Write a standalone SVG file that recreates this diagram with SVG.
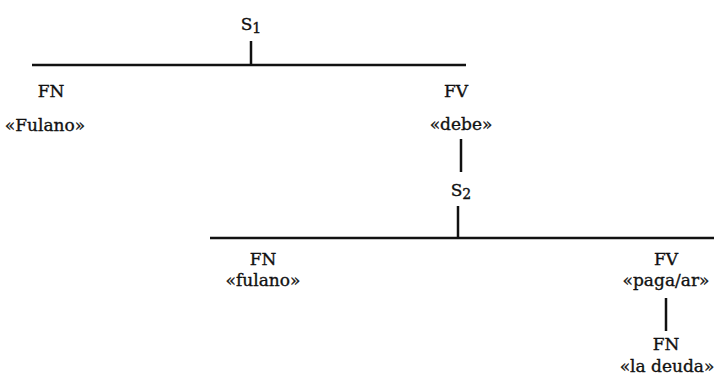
<svg xmlns="http://www.w3.org/2000/svg" width="717" height="381" viewBox="0 0 717 381">
<style>
text{font-family:"DejaVu Serif","Liberation Serif",serif;font-size:17px;fill:#111;stroke:#111;stroke-width:0.35;text-anchor:middle}
.sub{font-size:14px}
line{stroke:#111;stroke-width:2.5;fill:none}
</style>
<rect width="717" height="381" fill="#fff"/>
<g id="connectors">
<line x1="251" y1="41" x2="251" y2="64"/>
<line x1="32" y1="65" x2="466" y2="65"/>
<line x1="461" y1="139" x2="461" y2="172"/>
<line x1="458" y1="206" x2="458" y2="237"/>
<line x1="210" y1="238" x2="714" y2="238"/>
<line x1="666" y1="298" x2="666" y2="331"/>
</g>
<g id="S1"><text x="251" y="30">S<tspan class="sub" dy="3">1</tspan></text></g>
<g id="FN1"><text x="51" y="97">FN</text><text x="45" y="131">«Fulano»</text></g>
<g id="FV1"><text x="456" y="97">FV</text><text x="461" y="130">«debe»</text></g>
<g id="S2"><text x="461" y="196">S<tspan class="sub" dy="3">2</tspan></text></g>
<g id="FN2"><text x="263" y="265">FN</text><text x="263" y="286">«fulano»</text></g>
<g id="FV2"><text x="666" y="265">FV</text><text x="666" y="286">«paga/ar»</text></g>
<g id="FN3"><text x="666" y="350">FN</text><text x="667" y="372">«la deuda»</text></g>
</svg>
